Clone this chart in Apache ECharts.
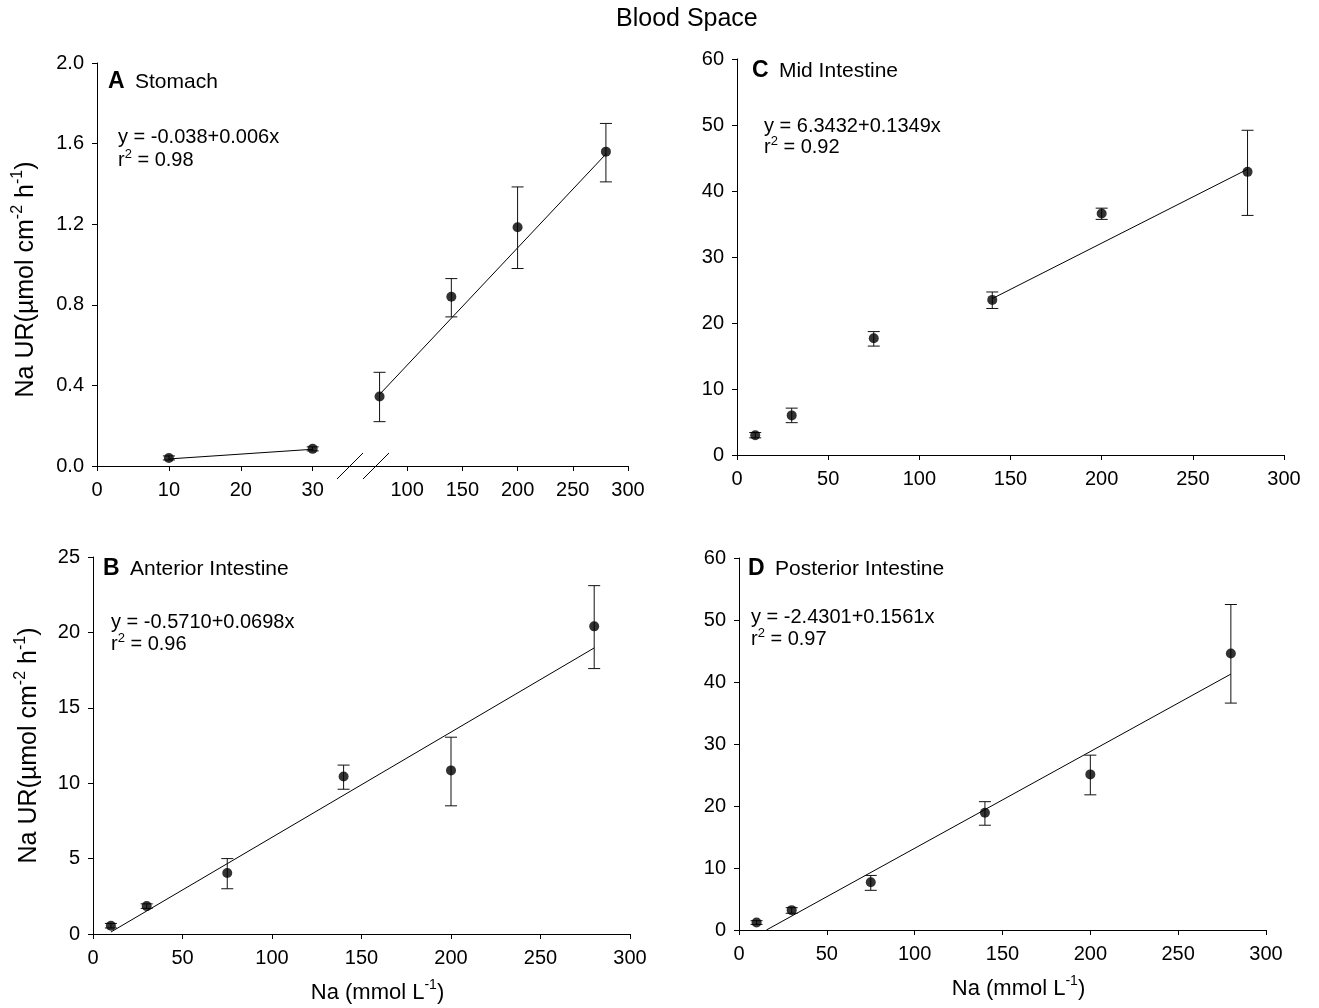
<!DOCTYPE html>
<html><head><meta charset="utf-8">
<script src="https://cdn.jsdelivr.net/npm/echarts@6/dist/echarts.min.js"></script>
<style>html,body{margin:0;padding:0;background:#fff}#c{width:1319px;height:1008px}</style>
</head><body><div id="c"></div>
<script>
// ---- data ----
const naConc = [10, 30, 75, 140, 200, 280];

const stomachMean = [0.04, 0.085, 0.345, 0.84, 1.185, 1.56];
const stomachLow  = [0.03, 0.075, 0.22, 0.74, 0.98, 1.41];
const stomachHigh = [0.05, 0.095, 0.465, 0.93, 1.385, 1.70];
const stomachFitLow  = [[10, 0.035], [30, 0.083]];
const stomachFitHigh = [[75, 0.355], [280, 1.548]];

const anteriorMean = [0.55, 1.85, 4.05, 10.45, 10.85, 20.4];
const anteriorLow  = [0.4, 1.7, 3.0, 9.6, 8.5, 17.6];
const anteriorHigh = [0.7, 2.0, 5.0, 11.2, 13.05, 23.1];
const anteriorFit  = [[10, 0.13], [280, 18.97]];

const midMean = [3.0, 6.0, 17.7, 23.5, 36.6, 42.9];
const midLow  = [2.6, 4.9, 16.5, 22.2, 35.7, 36.3];
const midHigh = [3.4, 7.1, 18.7, 24.7, 37.4, 49.2];
const midFit  = [[140, 23.7], [280, 43.3]];

const postMean = [1.2, 3.2, 7.7, 18.9, 25.1, 44.6];
const postLow  = [0.9, 2.7, 6.4, 16.9, 21.8, 36.6];
const postHigh = [1.5, 3.6, 8.8, 20.7, 28.2, 52.5];
const postFit  = [[15.6, 0], [280, 41.28]];

const stomachLeftTicks = [0, 10, 20, 30];
const stomachRightTicks = [100, 150, 200, 250, 300];
const stomachBreak = 37;      // end of left (0-30) segment
const stomachRightMin = 60;   // start of right (100-300) segment

// ---- helpers ----
const FONT = "'Liberation Sans', Arial, Helvetica, sans-serif";
const BLACK = '#000';

function pts(xs, ys) { return xs.map((x, i) => [x, ys[i]]); }

function errSeries(gi, xs, lo, hi) {
  return {
    type: 'custom', xAxisIndex: gi, yAxisIndex: gi, silent: true, z: 2,
    data: xs.map((x, i) => [x, lo[i], hi[i]]),
    encode: { x: 0, y: [1, 2] },
    renderItem(params, api) {
      const x = api.value(0);
      const a = api.coord([x, api.value(1)]);
      const b = api.coord([x, api.value(2)]);
      const w = 6;
      const st = { stroke: '#111', lineWidth: 1 };
      return { type: 'group', children: [
        { type: 'line', shape: { x1: a[0], y1: a[1], x2: b[0], y2: b[1] }, style: st },
        { type: 'line', shape: { x1: a[0] - w, y1: a[1], x2: a[0] + w, y2: a[1] }, style: st },
        { type: 'line', shape: { x1: b[0] - w, y1: b[1], x2: b[0] + w, y2: b[1] }, style: st }
      ]};
    }
  };
}
function dotSeries(gi, data) {
  return { type: 'scatter', xAxisIndex: gi, yAxisIndex: gi, data, symbol: 'circle',
    symbolSize: 10, itemStyle: { color: BLACK }, z: 3, silent: true };
}
function fitSeries(gi, data) {
  return { type: 'line', xAxisIndex: gi, yAxisIndex: gi, data, symbol: 'none',
    lineStyle: { color: BLACK, width: 1 }, z: 1, silent: true, animation: false };
}

function axisBase(labelMargin) {
  return {
    axisLine: { show: true, onZero: false, lineStyle: { color: BLACK, width: 1 } },
    axisTick: { show: true, inside: false, length: 5, lineStyle: { color: BLACK, width: 1 } },
    axisLabel: { color: BLACK, fontSize: 20, fontFamily: FONT, margin: labelMargin },
    splitLine: { show: false }
  };
}
function mergeAxis(base, extra) {
  const out = Object.assign({}, base, extra);
  if (extra.axisLabel) out.axisLabel = Object.assign({}, base.axisLabel, extra.axisLabel);
  if (extra.axisTick) out.axisTick = Object.assign({}, base.axisTick, extra.axisTick);
  return out;
}
function xAxis(gi, extra) { return mergeAxis(Object.assign({ type: 'value', gridIndex: gi }, axisBase(14)), extra); }
function yAxis(gi, extra) { return mergeAxis(Object.assign({ type: 'value', gridIndex: gi }, axisBase(13)), extra); }

function richName(size, supSize) {
  return {
    n: { fontSize: size, lineHeight: size + 8, fontFamily: FONT, color: BLACK },
    s: { fontSize: supSize, lineHeight: supSize + 1, verticalAlign: 'top', fontFamily: FONT, color: BLACK }
  };
}
const yName = '{n|Na UR(µmol cm}{s|-2}{n| h}{s|-1}{n|)}';
const xName = '{n|Na (mmol L}{s|-1}{n|)}';

// split stomach data into the two axis segments
const sL = naConc.map((x, i) => i).filter(i => naConc[i] <= stomachBreak);
const sR = naConc.map((x, i) => i).filter(i => naConc[i] > stomachBreak);
const pick = (arr, idx) => idx.map(i => arr[i]);

const option = {
  animation: false,
  backgroundColor: '#fff',
  title: { text: 'Blood Space', left: 616, top: 7, padding: 0,
    textStyle: { fontSize: 25, fontWeight: 'normal', color: BLACK, fontFamily: FONT } },
  grid: [
    { left: 97, top: 63, width: 266, height: 403 },
    { left: 363, top: 63, width: 265, height: 403 },
    { left: 93, top: 557, width: 537, height: 377 },
    { left: 737, top: 59, width: 547, height: 396 },
    { left: 739, top: 558, width: 527, height: 372 }
  ],
  xAxis: [
    xAxis(0, { min: 0, max: stomachBreak,
      axisLabel: { customValues: stomachLeftTicks }, axisTick: { customValues: stomachLeftTicks } }),
    xAxis(1, { min: stomachRightMin, max: 300,
      axisLabel: { customValues: stomachRightTicks }, axisTick: { customValues: stomachRightTicks } }),
    xAxis(2, { min: 0, max: 300, interval: 50, name: xName, nameLocation: 'middle', nameGap: 44,
      nameTextStyle: { rich: richName(22, 14), padding: [0, 0, 0, 32] } }),
    xAxis(3, { min: 0, max: 300, interval: 50 }),
    xAxis(4, { min: 0, max: 300, interval: 50, name: xName, nameLocation: 'middle', nameGap: 44,
      nameTextStyle: { rich: richName(22, 14), padding: [0, 0, 0, 32] } })
  ],
  yAxis: [
    yAxis(0, { min: 0, max: 2, interval: 0.4, name: yName, nameLocation: 'middle', nameRotate: 90, nameGap: 54,
      nameTextStyle: { rich: richName(25, 16), padding: [0, 30, 0, 0] },
      axisLabel: { formatter: v => v.toFixed(1) } }),
    yAxis(1, { min: 0, max: 2, show: false }),
    yAxis(2, { min: 0, max: 25, interval: 5, name: yName, nameLocation: 'middle', nameRotate: 90, nameGap: 47,
      nameTextStyle: { rich: richName(25, 16) } }),
    yAxis(3, { min: 0, max: 60, interval: 10 }),
    yAxis(4, { min: 0, max: 60, interval: 10 })
  ],
  series: [
    errSeries(0, pick(naConc, sL), pick(stomachLow, sL), pick(stomachHigh, sL)),
    dotSeries(0, pts(pick(naConc, sL), pick(stomachMean, sL))),
    fitSeries(0, stomachFitLow),
    errSeries(1, pick(naConc, sR), pick(stomachLow, sR), pick(stomachHigh, sR)),
    dotSeries(1, pts(pick(naConc, sR), pick(stomachMean, sR))),
    fitSeries(1, stomachFitHigh),

    errSeries(2, naConc, anteriorLow, anteriorHigh),
    dotSeries(2, pts(naConc, anteriorMean)),
    fitSeries(2, anteriorFit),

    errSeries(3, naConc, midLow, midHigh),
    dotSeries(3, pts(naConc, midMean)),
    fitSeries(3, midFit),

    errSeries(4, naConc, postLow, postHigh),
    dotSeries(4, pts(naConc, postMean)),
    fitSeries(4, postFit)
  ]
};

const chart = echarts.init(document.getElementById('c'), null, { renderer: 'canvas' });
chart.setOption(option);

// ---- annotations ----
const labRich = {
  b: { fontSize: 23, fontWeight: 'bold', fontFamily: FONT, color: BLACK, padding: [0, 7, 0, 0] },
  n: { fontSize: 21, fontFamily: FONT, color: BLACK }
};
const eqRich = {
  n: { fontSize: 20, lineHeight: 24, fontFamily: FONT, color: BLACK },
  s: { fontSize: 13, lineHeight: 14, verticalAlign: 'top', fontFamily: FONT, color: BLACK }
};
function label(x, y, letter, name) {
  return { type: 'text', x, y, silent: true,
    style: { text: '{b|' + letter + '} {n|' + name + '}', rich: labRich, verticalAlign: 'middle', align: 'left' } };
}
function eq(x, y, line1, r2, gap) {
  return [
    { type: 'text', x, y, silent: true, style: { text: '{n|' + line1 + '}', rich: eqRich, verticalAlign: 'middle', align: 'left' } },
    { type: 'text', x, y: y + gap, silent: true, style: { text: '{n|r}{s|2}{n| = ' + r2 + '}', rich: eqRich, verticalAlign: 'middle', align: 'left' } }
  ];
}
const p = chart.convertToPixel({ xAxisIndex: 0, yAxisIndex: 0 }, [stomachBreak, 0]);
const bx = p[0], by = p[1];
const graphics = [
  label(108, 82, 'A', 'Stomach'),
  label(103, 569, 'B', 'Anterior Intestine'),
  label(752, 71, 'C', 'Mid Intestine'),
  label(748, 569, 'D', 'Posterior Intestine'),
  ...eq(118, 137, 'y = -0.038+0.006x', '0.98', 23),
  ...eq(111, 622, 'y = -0.5710+0.0698x', '0.96', 22),
  ...eq(764, 126, 'y = 6.3432+0.1349x', '0.92', 21),
  ...eq(751, 617, 'y = -2.4301+0.1561x', '0.97', 22),
  { type: 'line', silent: true, shape: { x1: bx - 26, y1: by + 13, x2: bx, y2: by - 13 }, style: { stroke: BLACK, lineWidth: 1 } },
  { type: 'line', silent: true, shape: { x1: bx, y1: by + 13, x2: bx + 26, y2: by - 13 }, style: { stroke: BLACK, lineWidth: 1 } }
];
chart.setOption({ graphic: graphics });
</script>
</body></html>
